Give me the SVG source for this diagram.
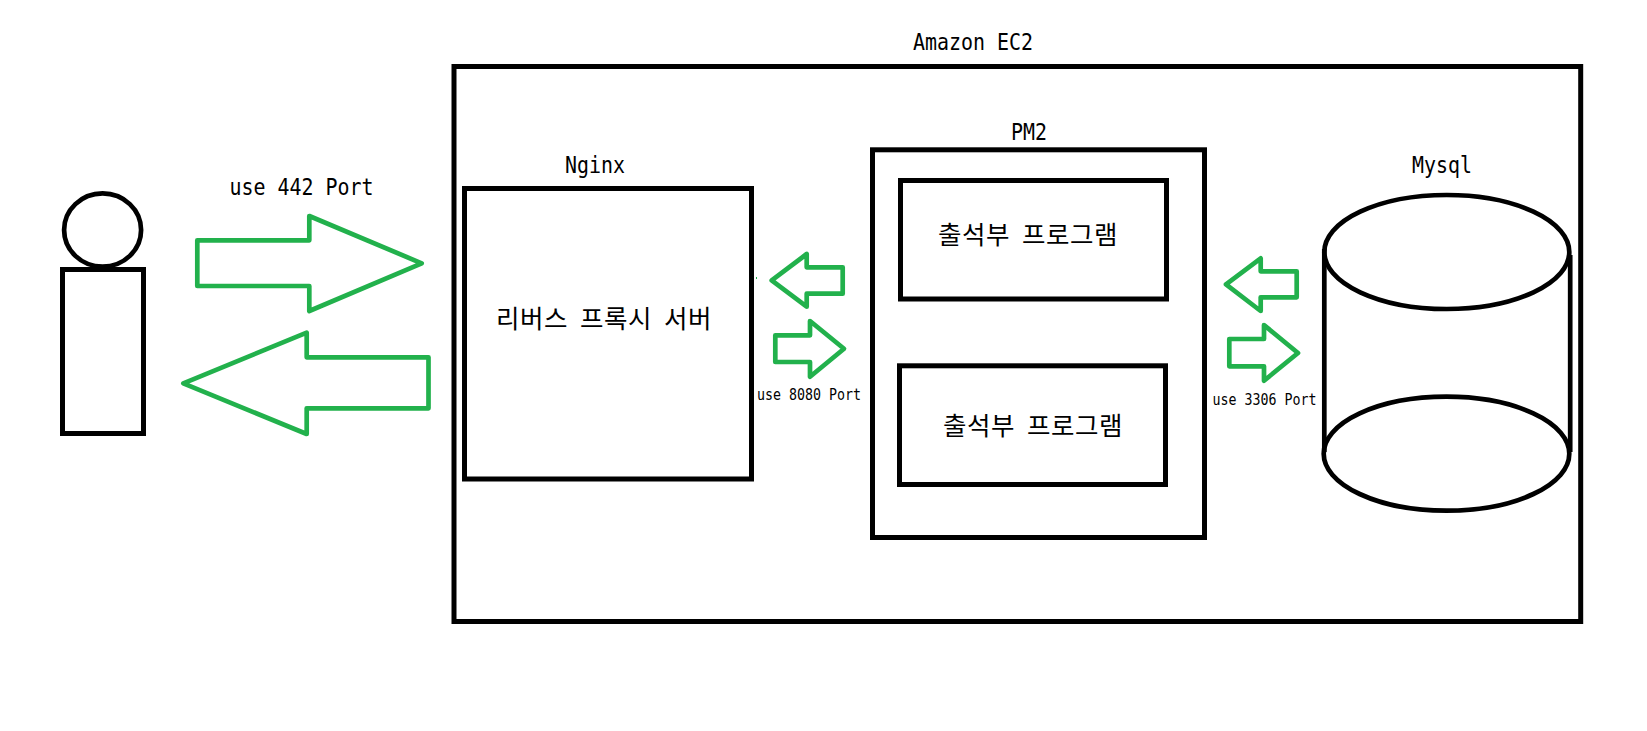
<svg xmlns="http://www.w3.org/2000/svg" width="1647" height="731" viewBox="0 0 1647 731">
<style>
.b{fill:none;stroke:#000;stroke-width:5}
.c{fill:none;stroke:#000;stroke-width:4.7}
.a{fill:none;stroke:#22b14c;stroke-width:4.7;stroke-linejoin:round}
.m{font-family:"DejaVu Sans Mono","Liberation Mono",monospace;font-size:23px;fill:#000}
.s{font-family:"DejaVu Sans Mono","Liberation Mono",monospace;font-size:16.5px;fill:#000}
.k{font-family:"Noto Sans CJK KR","Noto Sans",sans-serif;font-size:25.5px;fill:#000}
</style>
<rect width="1647" height="731" fill="#fff"/>
<g id="ec2">
<rect class="b" x="454" y="66.5" width="1126.7" height="555"/>
<text class="m" x="913" y="50" textLength="120" lengthAdjust="spacingAndGlyphs">Amazon EC2</text>
</g>
<g id="user">
<ellipse class="c" cx="102.6" cy="230" rx="38.5" ry="36.6"/>
<rect class="b" x="62.5" y="269.5" width="81" height="164"/>
</g>
<g id="nginx">
<rect class="b" x="464.5" y="188.5" width="287" height="290.5"/>
<text class="m" x="565" y="173" textLength="60" lengthAdjust="spacingAndGlyphs">Nginx</text>
<text class="k" x="496 520 544 568 580 604 628 652 664 688" y="328">리버스 프록시 서버</text>
</g>
<g id="pm2">
<rect class="b" x="872.5" y="149.8" width="332" height="387.7"/>
<text class="m" x="1011" y="140" textLength="36" lengthAdjust="spacingAndGlyphs">PM2</text>
</g>
<g id="program1">
<rect class="b" x="900.5" y="180.5" width="266" height="118.5"/>
<text class="k" x="938 962 986 1010 1022 1046 1070 1094" y="244">출석부 프로그램</text>
</g>
<g id="program2">
<rect class="b" x="899.5" y="365.8" width="266" height="118.7"/>
<text class="k" x="943 967 991 1015 1027 1051 1075 1099" y="435">출석부 프로그램</text>
</g>
<g id="mysql">
<ellipse class="c" cx="1446.8" cy="252" rx="122.5" ry="57"/>
<ellipse class="c" cx="1446.5" cy="453.7" rx="122.8" ry="57"/>
<path class="c" d="M1324.3 249V452M1570.2 255V452"/>
<text class="m" x="1412" y="173" textLength="60" lengthAdjust="spacingAndGlyphs">Mysql</text>
</g>
<g id="connectors">
<polygon class="a" points="197.3,240.3 309.3,240.3 309.3,216 421.7,263.3 309.3,311 309.3,286 197.3,286"/>
<polygon class="a" points="183.3,383.3 306.7,332.7 306.7,357.3 428.5,357.3 428.5,408.3 306.7,408.3 306.7,434"/>
<text class="m" x="229.5" y="195" textLength="144" lengthAdjust="spacingAndGlyphs">use 442 Port</text>
<polygon class="a" points="771.7,280.3 806.7,254 806.7,267.3 842.7,267.3 842.7,293.7 806.7,293.7 806.7,306.7"/>
<polygon class="a" points="775.3,335.3 810,335.3 810,321 844,348.7 810,376.7 810,362 775.3,362"/>
<text class="s" x="757" y="400" textLength="104" lengthAdjust="spacingAndGlyphs">use 8080 Port</text>
<polygon class="a" points="1226,284.3 1260.7,258.3 1260.7,271.3 1296.7,271.3 1296.7,297.3 1260.7,297.3 1260.7,311"/>
<polygon class="a" points="1229.3,339 1264,339 1264,325 1298,353 1264,380.7 1264,366.3 1229.3,366.3"/>
<text class="s" x="1212.5" y="405" textLength="104" lengthAdjust="spacingAndGlyphs">use 3306 Port</text>
<rect x="756" y="277" width="1" height="2" fill="#22b14c"/>
</g>
</svg>
